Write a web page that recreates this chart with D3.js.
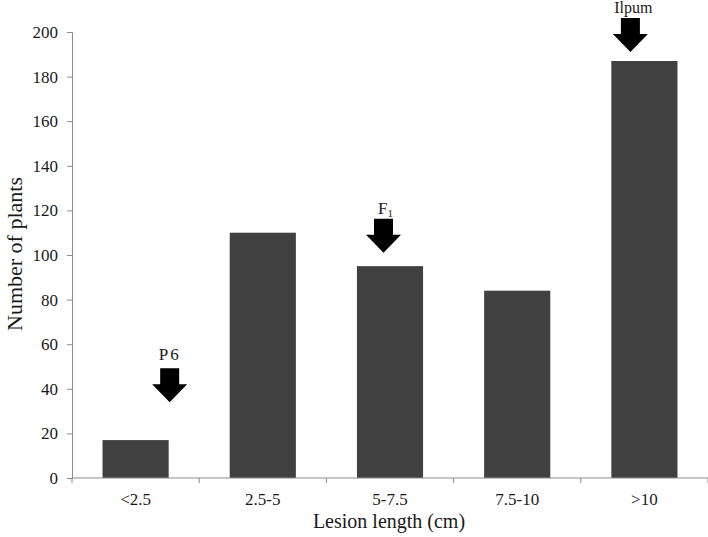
<!DOCTYPE html>
<html><head><meta charset="utf-8">
<script src="https://cdn.jsdelivr.net/npm/d3@7"></script>
<style>body{margin:0;background:#fff}svg{display:block}svg text{font-family:"Liberation Serif","DejaVu Serif",serif}</style>
</head><body>
<svg id="c" width="708" height="537"></svg>
<script>
const categories = ["<2.5", "2.5-5", "5-7.5", "7.5-10", ">10"];
const plantCounts = [17, 110, 95, 84, 187];
const yTicks = [0, 20, 40, 60, 80, 100, 120, 140, 160, 180, 200];
const arrowLabels = ["P6", "F1", "Ilpum"];
const arrowCategories = ["<2.5", "5-7.5", ">10"];
const arrowTipValues = [34, 101, 191];

const svg = d3.select("#c");
const m = {l: 72, r: 0, t: 32, b: 59};
const W = 708, H = 537;
const x = d3.scaleBand().domain(categories).range([m.l, W - m.r]).paddingInner(0.48).paddingOuter(0.24);
const xTick = d3.scaleLinear().domain([0, categories.length]).range([m.l, W - m.r]);
const y = d3.scaleLinear().domain([0, 200]).range([H - m.b, m.t]);
const axisColor = "#8c8c8c";
const txt = "#1a1a1a";

svg.selectAll("rect.bar").data(plantCounts).join("rect").attr("class", "bar")
  .attr("x", (d, i) => x(categories[i])).attr("width", x.bandwidth())
  .attr("y", d => y(d)).attr("height", d => y(0) - y(d))
  .attr("fill", "#404040");

const ya = svg.append("g").attr("transform", `translate(${m.l},0)`)
  .call(d3.axisLeft(y).tickValues(yTicks).tickSize(5).tickPadding(9));
ya.attr("font-family", null).attr("font-size", null);
ya.select(".domain").attr("stroke", axisColor);
ya.selectAll(".tick line").attr("stroke", axisColor);
ya.selectAll("text").style("font-size", "17px").attr("fill", txt);

const xa = svg.append("g").attr("transform", `translate(0,${y(0)})`);
xa.append("line").attr("x1", m.l).attr("x2", W - m.r).attr("stroke", axisColor);
xa.selectAll("line.t").data(d3.range(categories.length + 1)).join("line").attr("class", "t")
  .attr("x1", i => xTick(i)).attr("x2", i => xTick(i)).attr("y1", 0).attr("y2", 5).attr("stroke", axisColor);
xa.selectAll("text").data(categories).join("text")
  .attr("x", d => x(d) + x.bandwidth() / 2).attr("y", 21).attr("dy", "0.35em")
  .attr("text-anchor", "middle").style("font-size", "17px").attr("fill", txt)
  .text(d => d);

svg.append("text").attr("x", 389).attr("y", 521).attr("dy", "0.35em").attr("text-anchor", "middle")
  .style("font-size", "20px").attr("fill", txt).text("Lesion length (cm)");
svg.append("text").attr("transform", `translate(14,254) rotate(-90)`).attr("dy", "0.35em").attr("text-anchor", "middle")
  .style("font-size", "22px").attr("fill", txt).text("Number of plants");

const arrowX = [
  x(arrowCategories[0]) + x.bandwidth() + 1,
  x(arrowCategories[1]) + x.bandwidth() / 2 - 6.5,
  x(arrowCategories[2]) + x.bandwidth() / 2 - 14
];
arrowLabels.forEach((lab, i) => {
  const cx = arrowX[i], ty = y(arrowTipValues[i]);
  const p = [[cx - 9.5, ty - 34], [cx + 9.5, ty - 34], [cx + 9.5, ty - 18], [cx + 17.5, ty - 18], [cx, ty], [cx - 17.5, ty - 18], [cx - 9.5, ty - 18]];
  svg.append("path").attr("d", d3.line()(p) + "Z").attr("fill", "#000");
  const t = svg.append("text").attr("y", ty - 39).attr("text-anchor", "middle")
    .style("font-size", "17px").attr("fill", txt);
  if (lab === "F1") {
    t.attr("x", cx + 2);
    t.append("tspan").text("F");
    t.append("tspan").style("font-size", "11px").attr("dy", 3).text("1");
  } else if (lab === "P6") {
    t.attr("x", cx).attr("y", ty - 42).attr("letter-spacing", 2).text(lab);
  } else {
    t.attr("x", cx + 3).style("font-size", "16px").text(lab);
  }
});
</script>
</body></html>
